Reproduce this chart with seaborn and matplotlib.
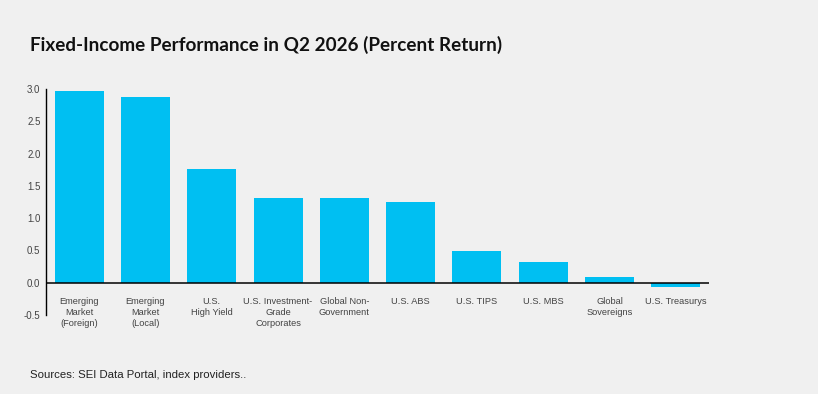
import matplotlib
matplotlib.use("Agg")
import matplotlib.pyplot as plt
import seaborn as sns
import pandas as pd

# data
categories = [
    "Emerging\nMarket\n(Foreign)",
    "Emerging\nMarket\n(Local)",
    "U.S.\nHigh Yield",
    "U.S. Investment-\nGrade\nCorporates",
    "Global Non-\nGovernment",
    "U.S. ABS",
    "U.S. TIPS",
    "U.S. MBS",
    "Global\nSovereigns",
    "U.S. Treasurys",
]
returns = [2.97, 2.88, 1.76, 1.31, 1.31, 1.25, 0.49, 0.32, 0.09, -0.06]
y_ticks = [-0.5, 0.0, 0.5, 1.0, 1.5, 2.0, 2.5, 3.0]

BG = "#f0f0f0"
BAR = "#00bff2"

sns.set_theme(style="white")
plt.rcParams["font.family"] = ["Liberation Sans", "DejaVu Sans"]

df = pd.DataFrame({"category": categories, "ret": returns})

fig = plt.figure(figsize=(8.18, 3.94), dpi=100, facecolor=BG)
ax = fig.add_axes([46 / 818, 1 - 315 / 394, 663 / 818, 226 / 394])
ax.set_facecolor(BG)

sns.barplot(data=df, x="category", y="ret", color=BAR, saturation=1,
            width=0.74, linewidth=0, ax=ax)

ax.set_xlim(-0.5, len(categories) - 0.5)
ax.set_ylim(-0.5, 3.0)
ax.axhline(0, color="black", lw=1.1, zorder=3)

ax.set_xticks([])
ax.set_xlabel("")
ax.set_ylabel("")
ax.set_yticks(y_ticks)
ax.set_yticklabels([f"{t:.1f}" for t in y_ticks])
ax.tick_params(axis="y", length=0, pad=4, labelsize=7, labelcolor="#444444")

for s in ["top", "right", "bottom"]:
    ax.spines[s].set_visible(False)
ax.spines["left"].set_color("black")
ax.spines["left"].set_linewidth(1.0)

# category labels sit just under the zero line
for i, name in enumerate(categories):
    ax.annotate(name, xy=(i, 0), xytext=(0, -10), textcoords="offset points",
                ha="center", va="top", fontsize=6.7, color="#444444",
                linespacing=1.3)

fig.text(30 / 818, 1 - 45 / 394,
         "Fixed-Income Performance in Q2 2026 (Percent Return)",
         family=["Lato", "DejaVu Sans"], fontweight="bold", fontsize=13.6,
         color="#111111", va="center", ha="left")
fig.text(30 / 818, 1 - 375 / 394, "Sources: SEI Data Portal, index providers..",
         fontsize=8.2, color="#222222", va="center", ha="left")

fig.savefig("out.png", dpi=100, facecolor=BG)
